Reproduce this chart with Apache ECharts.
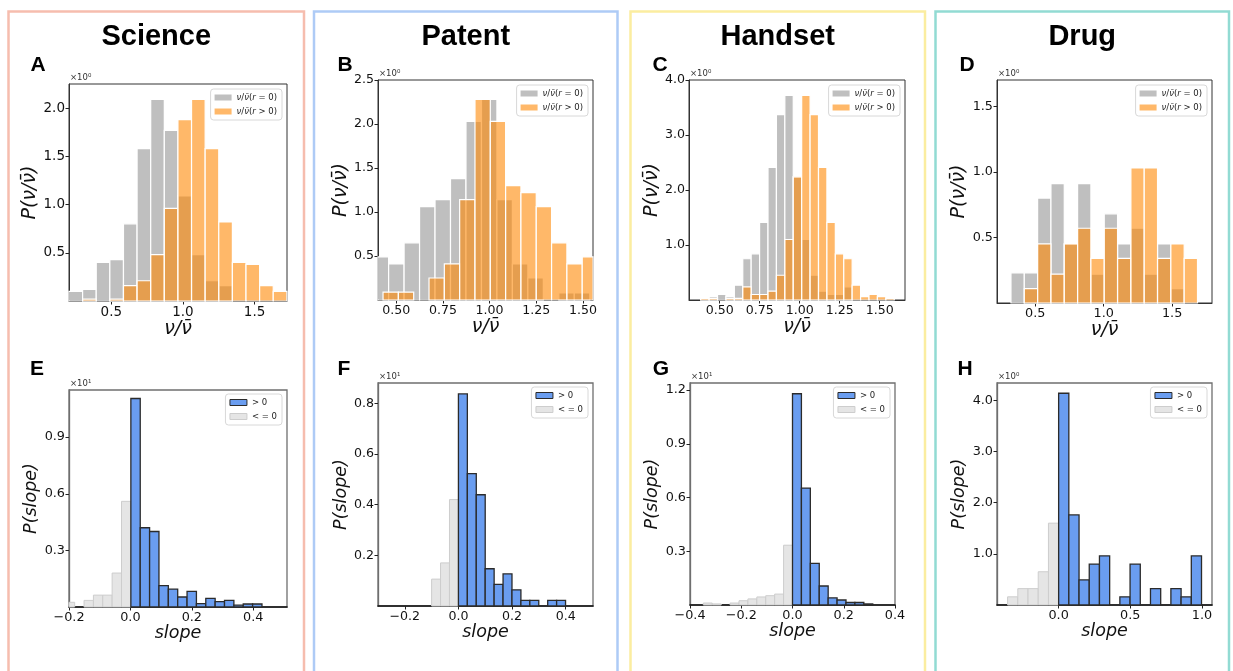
<!DOCTYPE html>
<html><head><meta charset="utf-8">
<script src="https://cdn.jsdelivr.net/npm/echarts@6/dist/echarts.min.js"></script>
<style>html,body{margin:0;padding:0;background:#fff}#c{width:1233px;height:671px}</style>
</head><body><div id="c"></div>
<script>
// ================= DATA =================
const fields = ['Science', 'Patent', 'Handset', 'Drug'];
const letters = ['A', 'B', 'C', 'D', 'E', 'F', 'G', 'H'];
const nameZero = 'ν/ν̄(r = 0)';
const namePos = 'ν/ν̄(r > 0)';
const nameGt = '> 0';
const nameLe = '< = 0';

// Top row: P(ν/ν̄) histograms. edges = [first bin edge, bin width]
const edgesA = [0.205, 0.095];
const zeroA = [0.10, 0.12, 0.40, 0.43, 0.80, 1.58, 2.09, 1.77, 1.09, 0.48, 0.21, 0.16, 0, 0, 0, 0];
const posA = [0, 0.02, 0, 0.02, 0.16, 0.21, 0.48, 0.96, 1.88, 2.09, 1.58, 0.82, 0.40, 0.38, 0.16, 0.10];

const edgesB0 = [0.376, 0.0829];
const zeroB = [0.49, 0.41, 0.65, 1.06, 1.14, 1.38, 2.03, 2.28, 1.14, 0.41, 0.25, 0, 0.08, 0.08];
const edgesB1 = [0.429, 0.0821];
const posB = [0.09, 0.09, 0, 0.25, 0.41, 1.14, 2.28, 2.03, 1.30, 1.22, 1.06, 0.65, 0.41, 0.49];

const edgesC = [0.381, 0.0526];
const zeroC = [0.03, 0.06, 0.10, 0.06, 0.27, 0.75, 0.84, 1.41, 2.41, 3.37, 3.72, 2.24, 1.10, 0.45, 0.16, 0.10, 0.10, 0.24, 0, 0, 0, 0, 0];
const posC = [0.03, 0.03, 0, 0.03, 0.03, 0.24, 0.10, 0.10, 0.16, 0.45, 1.10, 2.24, 3.72, 3.37, 2.41, 1.41, 0.84, 0.75, 0.27, 0.06, 0.10, 0.06, 0.03];

const edgesD = [0.323, 0.0973];
const zeroD = [0.23, 0.23, 0.80, 0.91, 0.45, 0.91, 0.22, 0.68, 0.45, 0.57, 0.22, 0.45, 0.11, 0];
const posD = [0, 0.11, 0.45, 0.22, 0.45, 0.57, 0.34, 0.57, 0.34, 1.03, 1.03, 0.34, 0.45, 0.34];

// Bottom row: P(slope) histograms (×10 for E, F, G)
const edgesE0 = [-0.212, 0.0305];
const negE = [0.025, 0, 0.035, 0.063, 0.063, 0.18, 0.56];
const edgesE1 = [0.0015, 0.0305];
const posE = [1.105, 0.42, 0.40, 0.113, 0.095, 0.053, 0.083, 0.018, 0.046, 0.028, 0.035, 0.01, 0.016, 0.016];

const edgesF0 = [-0.1, 0.0333];
const negF = [0.106, 0.17, 0.42];
const edgesF1 = [0, 0.0333];
const posF = [0.837, 0.522, 0.439, 0.147, 0.085, 0.127, 0.064, 0.022, 0.022, 0, 0.022, 0.022];

const edgesG0 = [-0.3828, 0.0348];
const negG = [0, 0.011, 0.006, 0, 0.011, 0.024, 0.034, 0.045, 0.052, 0.061, 0.334];
const edgesG1 = [0, 0.0348];
const posG = [1.18, 0.653, 0.232, 0.106, 0.040, 0.028, 0.014, 0.014, 0.006];

const edgesH0 = [-0.356, 0.0712];
const negH = [0.16, 0.32, 0.32, 0.65, 1.60];
const edgesH1 = [0, 0.0712];
const posH = [4.14, 1.76, 0.49, 0.80, 0.96, 0, 0.16, 0.80, 0, 0.32, 0, 0.32, 0.16, 0.96];

// Tick labels
const xTicksA = ['0.5', '1.0', '1.5'];
const yTicksA = ['0.5', '1.0', '1.5', '2.0'];
const xTicksB = ['0.50', '0.75', '1.00', '1.25', '1.50'];
const yTicksB = ['0.5', '1.0', '1.5', '2.0', '2.5'];
const xTicksC = ['0.50', '0.75', '1.00', '1.25', '1.50'];
const yTicksC = ['1.0', '2.0', '3.0', '4.0'];
const xTicksD = ['0.5', '1.0', '1.5'];
const yTicksD = ['0.5', '1.0', '1.5'];
const xTicksE = ['−0.2', '0.0', '0.2', '0.4'];
const yTicksE = ['0.3', '0.6', '0.9'];
const xTicksF = ['−0.2', '0.0', '0.2', '0.4'];
const yTicksF = ['0.2', '0.4', '0.6', '0.8'];
const xTicksG = ['−0.4', '−0.2', '0.0', '0.2', '0.4'];
const yTicksG = ['0.3', '0.6', '0.9', '1.2'];
const xTicksH = ['0.0', '0.5', '1.0'];
const yTicksH = ['1.0', '2.0', '3.0', '4.0'];
const magnitudes = ['×10⁰', '×10⁰', '×10⁰', '×10⁰', '×10¹', '×10¹', '×10¹', '×10⁰'];

// ================= STYLES / LAYOUT =================
const sGray = { fill: 'rgba(128,128,128,0.5)', stroke: '#ffffff', lineWidth: 1.2 };
const sOrange = { fill: 'rgba(255,137,5,0.6)', stroke: '#ffffff', lineWidth: 1.2 };
const sBlue = { fill: '#6a9df0', stroke: '#2b2b2b', lineWidth: 1.3 };
const sLight = { fill: '#e5e5e5', stroke: '#cdcdcd', lineWidth: 1 };

const colRects = [
  { x0: 8.5, x1: 304, c: '#f6bdae' },
  { x0: 314, x1: 617.5, c: '#aecbf6' },
  { x0: 630.5, x1: 925, c: '#fbeda0' },
  { x0: 935.5, x1: 1229, c: '#92dbd3' }
];
const letterPos = [[38, 65], [345, 65], [660, 65], [967, 65], [37, 369], [344, 369], [661, 369], [965, 369]];

const panels = [
  { g: [69, 84, 218, 217], x: [0.205, 1.726], y: [0, 2.25], xt: xTicksA, yt: yTicksA, top: true, fs: 13.5,
    s: [[nameZero, edgesA, zeroA, sGray], [namePos, edgesA, posA, sOrange]] },
  { g: [378, 80, 215, 220], x: [0.402, 1.554], y: [0, 2.5], xt: xTicksB, yt: yTicksB, top: true, fs: 12.6,
    s: [[nameZero, edgesB0, zeroB, sGray], [namePos, edgesB1, posB, sOrange]] },
  { g: [689, 80, 216, 220], x: [0.308, 1.658], y: [0, 4.0], xt: xTicksC, yt: yTicksC, top: true, fs: 12.6,
    s: [[nameZero, edgesC, zeroC, sGray], [namePos, edgesC, posC, sOrange]] },
  { g: [997, 80, 215, 223], x: [0.221, 1.791], y: [0, 1.70], xt: xTicksD, yt: yTicksD, top: true, fs: 12.8,
    s: [[nameZero, edgesD, zeroD, sGray], [namePos, edgesD, posD, sOrange]] },
  { g: [69, 390, 218, 217], x: [-0.2, 0.51], y: [0, 1.15], xt: xTicksE, yt: yTicksE, top: false, fs: 12.8,
    s: [[nameLe, edgesE0, negE, sLight], [nameGt, edgesE1, posE, sBlue]] },
  { g: [378, 383, 215, 223], x: [-0.3, 0.502], y: [0, 0.88], xt: xTicksF, yt: yTicksF, top: false, fs: 12.6,
    s: [[nameLe, edgesF0, negF, sLight], [nameGt, edgesF1, posF, sBlue]] },
  { g: [690, 383, 205, 222], x: [-0.4, 0.4], y: [0, 1.24], xt: xTicksG, yt: yTicksG, top: false, fs: 12.8,
    s: [[nameLe, edgesG0, negG, sLight], [nameGt, edgesG1, posG, sBlue]] },
  { g: [997, 383, 215, 222], x: [-0.43, 1.07], y: [0, 4.34], xt: xTicksH, yt: yTicksH, top: false, fs: 12.8,
    s: [[nameLe, edgesH0, negH, sLight], [nameGt, edgesH1, posH, sBlue]] }
];

// ================= BUILD =================
const W = 1233;
const num = s => parseFloat(s.replace('−', '-'));
const toBins = (edges, vals) => vals.map((v, i) => [edges[0] + i * edges[1], edges[0] + (i + 1) * edges[1], v]);
const fmt = ticks => v => {
  const t = ticks.find(s => Math.abs(num(s) - v) < 1e-9);
  return t === undefined ? '' : t;
};
const makeRender = style => (params, api) => {
  const h = api.value(2);
  if (!(h > 0)) return null;
  const a = api.coord([api.value(0), h]);
  const b = api.coord([api.value(1), 0]);
  const cs = params.coordSys;
  const shape = echarts.graphic.clipRectByRect(
    { x: a[0], y: a[1], width: b[0] - a[0], height: b[1] - a[1] },
    { x: cs.x, y: cs.y, width: cs.width, height: cs.height });
  if (!shape) return null;
  return { type: 'rect', shape: shape, style: style };
};

const grids = [], xAxes = [], yAxes = [], series = [], legends = [], graphics = [];

panels.forEach((p, i) => {
  const [gl, gt, gw, gh] = p.g;
  const tickFont = { fontSize: p.fs, color: '#111', fontFamily: 'DejaVu Sans' };
  const nameFont = { fontSize: p.top ? 19 : 17.5, fontStyle: 'italic', color: '#111', fontFamily: 'DejaVu Sans' };
  grids.push({ left: gl, top: gt, width: gw, height: gh, show: true,
    borderColor: p.top ? '#333' : '#6f6f6f', borderWidth: p.top ? 1 : 1.3, backgroundColor: 'rgba(0,0,0,0)' });
  const xv = p.xt.map(num), yv = p.yt.map(num);
  xAxes.push({
    type: 'value', gridIndex: i, min: p.x[0], max: p.x[1],
    splitLine: { show: false },
    axisLine: { show: true, onZero: false, lineStyle: { color: p.top ? '#333' : '#111', width: p.top ? 1 : 1.6 } },
    axisTick: { show: true, length: 3.5, customValues: xv, lineStyle: { color: '#222' } },
    axisLabel: Object.assign({ customValues: xv, formatter: fmt(p.xt), margin: 4 }, tickFont),
    name: p.top ? 'ν/ν̄' : 'slope', nameLocation: 'middle', nameGap: p.top ? 12 : 15,
    nameTextStyle: nameFont
  });
  yAxes.push({
    type: 'value', gridIndex: i, min: p.y[0], max: p.y[1],
    splitLine: { show: false },
    axisLine: { show: true, onZero: false, lineStyle: { color: p.top ? '#333' : '#6f6f6f', width: p.top ? 1 : 1.3 } },
    axisTick: { show: true, length: 3.5, customValues: yv, lineStyle: { color: '#222' } },
    axisLabel: Object.assign({ customValues: yv, formatter: fmt(p.yt), margin: 4 }, tickFont),
    name: p.top ? 'P(ν/ν̄)' : 'P(slope)', nameLocation: 'middle', nameGap: p.top ? 25 : 27,
    nameTextStyle: nameFont
  });
  p.s.forEach(([name, edges, vals, style]) => {
    series.push({
      type: 'custom', name: name, xAxisIndex: i, yAxisIndex: i,
      renderItem: makeRender(style),
      encode: { x: [0, 1], y: 2 },
      itemStyle: { color: style.fill, borderColor: style.stroke, borderWidth: style.lineWidth },
      data: toBins(edges, vals)
    });
  });
  const legData = p.top
    ? [{ name: nameZero, icon: 'rect', itemStyle: { color: sGray.fill, borderWidth: 0 } },
       { name: namePos, icon: 'rect', itemStyle: { color: sOrange.fill, borderWidth: 0 } }]
    : [{ name: nameGt, icon: 'rect', itemStyle: { color: sBlue.fill, borderColor: '#2b2b2b', borderWidth: 1 } },
       { name: nameLe, icon: 'rect', itemStyle: { color: sLight.fill, borderColor: '#cdcdcd', borderWidth: 1 } }];
  legends.push({
    orient: 'vertical', right: W - (gl + gw) + 5, top: gt + (p.top ? 5 : 4),
    itemWidth: 17, itemHeight: 6, itemGap: 5, padding: [4, 5, 4, 4],
    borderColor: '#d8d8d8', borderWidth: 1, borderRadius: 3, backgroundColor: 'rgba(255,255,255,0.85)',
    selectedMode: false,
    formatter: n => p.top ? n.replace(/^ν\/ν̄\(r/, '{i|ν}/{i|ν̄}({i|r}') : n,
    textStyle: { fontSize: 8.5, color: '#222', fontFamily: 'DejaVu Sans',
      rich: { i: { fontStyle: 'italic', fontSize: 8.5, color: '#222', fontFamily: 'DejaVu Sans' } } },
    data: legData
  });
  graphics.push({ type: 'text', x: gl + 1, y: gt - 2, silent: true,
    style: { text: magnitudes[i], fill: '#333', font: '8.5px "DejaVu Sans"', align: 'left', verticalAlign: 'bottom' } });
  graphics.push({ type: 'text', x: letterPos[i][0], y: letterPos[i][1], silent: true,
    style: { text: letters[i], fill: '#000', font: 'bold 21px "Liberation Sans"', align: 'center', verticalAlign: 'middle' } });
});

colRects.forEach((c, i) => {
  graphics.push({ type: 'rect', silent: true, shape: { x: c.x0, y: 11.5, width: c.x1 - c.x0, height: 700 },
    style: { fill: 'none', stroke: c.c, lineWidth: 2.5 } });
  graphics.push({ type: 'text', silent: true, x: (c.x0 + c.x1) / 2, y: 37,
    style: { text: fields[i], fill: '#000', font: 'bold 29px "Liberation Sans"', align: 'center', verticalAlign: 'middle' } });
});

const chart = echarts.init(document.getElementById('c'), null, { renderer: 'canvas' });
chart.setOption({
  animation: false,
  backgroundColor: '#ffffff',
  grid: grids, xAxis: xAxes, yAxis: yAxes, series: series, legend: legends,
  graphic: { elements: graphics }
});
</script></body></html>
